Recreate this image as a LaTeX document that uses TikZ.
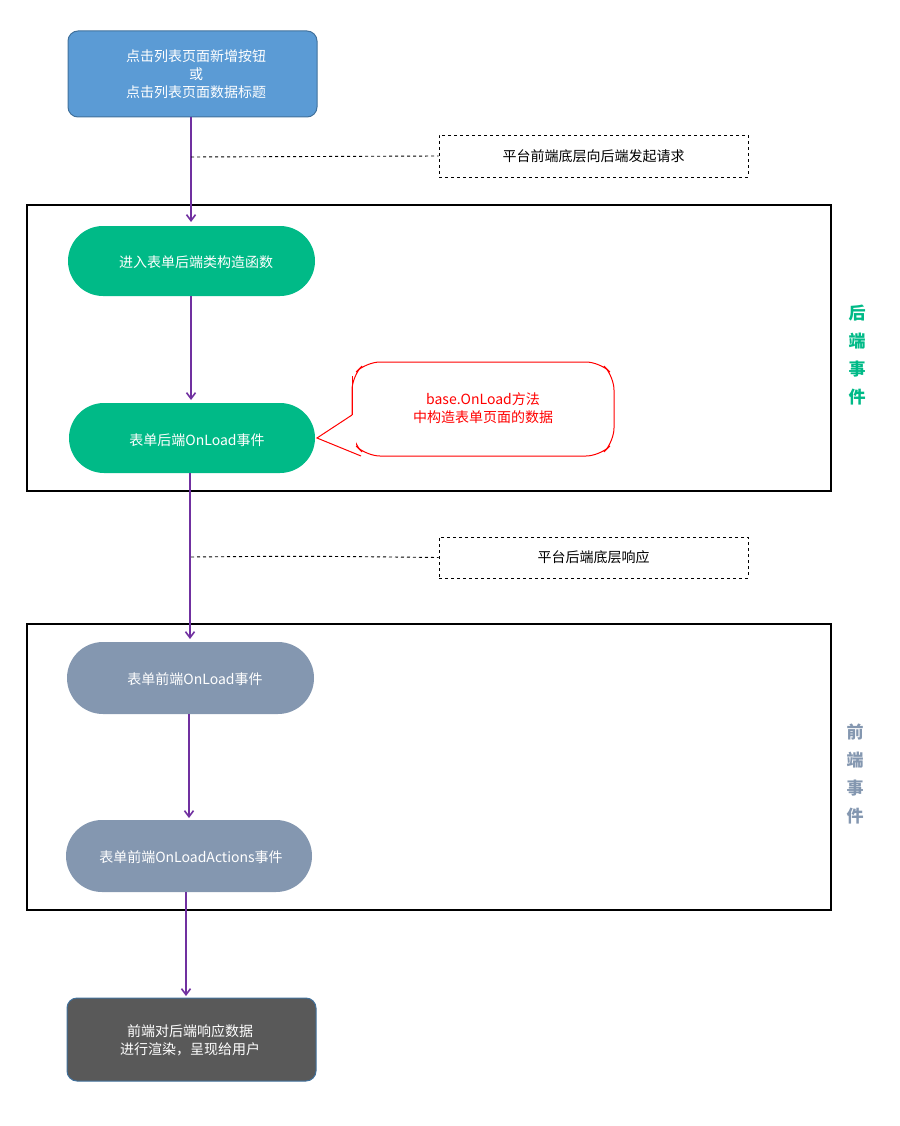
\documentclass[tikz,border=0pt]{standalone}
\usepackage{fontspec}
\setmainfont{Noto Sans CJK SC}
\usetikzlibrary{arrows.meta,shapes.callouts}
\definecolor{pur}{HTML}{7030A0}
\definecolor{blu}{HTML}{5B9BD5}
\definecolor{blub}{HTML}{41719C}
\definecolor{grn}{HTML}{00BA87}
\definecolor{gry}{HTML}{8497B0}
\definecolor{drk}{HTML}{595959}
\begin{document}
\begin{tikzpicture}[x=1pt,y=-1pt,
  arr/.style={pur,line width=1.6pt,-{Straight Barb[length=6pt,width=9pt]}},
  dsh/.style={dashed,line width=0.9pt},
  txt/.style={font=\fontsize{14}{18}\selectfont,align=center},
  stad/.style={rounded corners=35pt,draw=none,text=white,txt},
  frame/.style={draw,line width=1.1pt}]
\useasboundingbox (0,0) rectangle (899,1126);
\fill[blu,draw=blub,line width=1pt,rounded corners=10pt] (68,31) rectangle (317,117);
\node[txt,text=white] (a) at (196,74) {点击列表页面新增按钮\\或\\点击列表页面数据标题};
\coordinate (at) at (191,117);
\draw[frame] (27,205) rectangle (831,491);
\draw[frame] (27,624) rectangle (831,910);
\fill[grn,rounded corners=35pt] (68,226) rectangle (315,296);
\node[txt,text=white] (b) at (196,262) {进入表单后端类构造函数};
\fill[grn,rounded corners=35pt] (69,403) rectangle (315,473);
\node[txt,text=white] (c) at (197,440) {表单后端OnLoad事件};
\fill[gry,rounded corners=36pt] (67,642) rectangle (314,714);
\node[txt,text=white] (d) at (195,679) {表单前端OnLoad事件};
\fill[gry,rounded corners=36pt] (66,820) rectangle (312,892);
\node[txt,text=white] (e) at (191,857) {表单前端OnLoadActions事件};
\fill[drk,draw=blub,line width=1pt,rounded corners=10pt] (67,998) rectangle (316,1081);
\node[txt,text=white] (f) at (190,1040) {前端对后端响应数据\\进行渲染，呈现给用户};
\draw[arr] (191,117) -- (191,222);
\draw[arr] (191,296) -- (191,400);
\draw[arr] (190,473) -- (190,639);
\draw[arr] (189,714) -- (189,818);
\draw[arr] (186,892) -- (186,996);
\node[draw,dsh,minimum width=309pt,minimum height=42pt,txt] (n1) at (593.5,156) {平台前端底层向后端发起请求};
\draw[dsh] (191,157) -- (n1.west);
\node[draw,dsh,minimum width=309pt,minimum height=41pt,txt] (n2) at (593.5,557.5) {平台后端底层响应};
\draw[dsh] (191,557) .. controls (300,556) .. (n2.west);
\draw[red,line width=1pt,fill=white,rounded corners=14pt] (352,430) -- (352,376) -- (366,362) -- (600,362) -- (614,376) -- (614,442) -- (600,456) -- (366,456) -- (352,442) -- cycle;
\fill[white] (350,415) rectangle (356,446);
\draw[red,line width=1pt] (352,415) -- (317,438) -- (361,456);
\draw[red,line width=1pt] (352,415) -- (352,376);
\node[txt,text=red] (g) at (483,408) {base.OnLoad方法\\中构造表单页面的数据};
\node[font=\bfseries\fontsize{17}{28}\selectfont,text=grn,align=center] (s1) at (857,355) {后\\端\\事\\件};
\node[font=\bfseries\fontsize{17}{28}\selectfont,text=gry,align=center] (s2) at (855,774) {前\\端\\事\\件};
\end{tikzpicture}
\end{document}
